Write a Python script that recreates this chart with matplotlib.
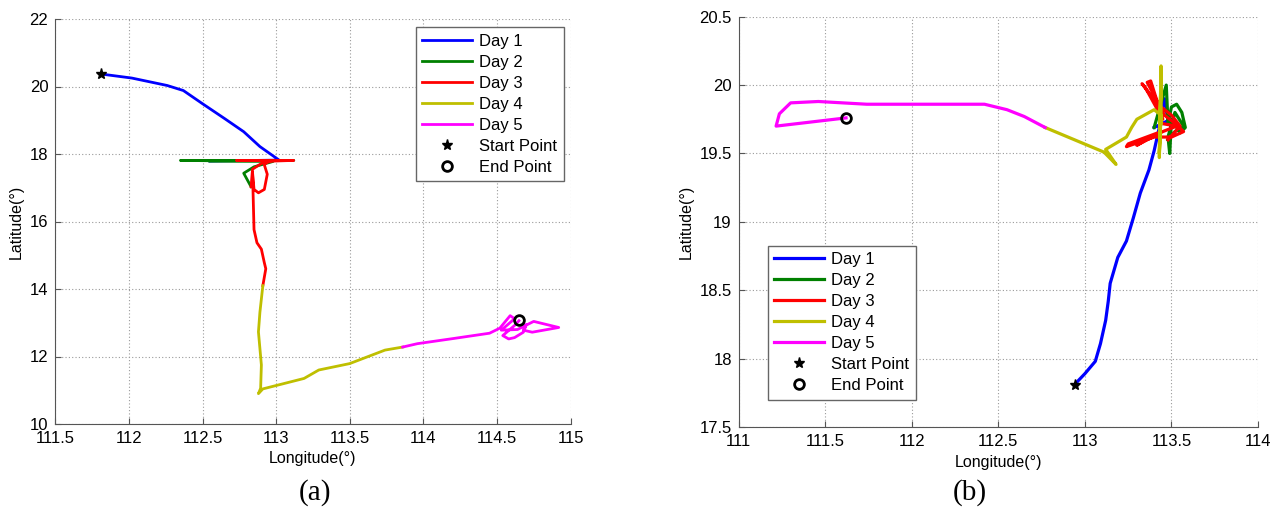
import matplotlib
matplotlib.use("Agg")
import matplotlib.pyplot as plt

plt.rcParams["font.family"] = ["Liberation Sans", "DejaVu Sans"]

# ---- track (a) ----
A_DAY1_LON = [111.81, 112.02, 112.26, 112.37, 112.50, 112.65, 112.78, 112.89, 113.02, 112.55]
A_DAY1_LAT = [20.37, 20.25, 20.03, 19.88, 19.49, 19.05, 18.66, 18.22, 17.82, 17.79]
A_DAY2_LON = [112.55, 113.12, 112.35, 112.98, 112.85, 112.78, 112.83]
A_DAY2_LAT = [17.79, 17.81, 17.81, 17.78, 17.62, 17.43, 17.03]
A_DAY3_LON = [112.83, 112.84, 112.90, 112.98, 113.12, 112.73, 112.95, 112.92, 112.94, 112.92,
              112.88, 112.85, 112.84, 112.85, 112.87, 112.90, 112.92, 112.93, 112.91]
A_DAY3_LAT = [17.03, 17.55, 17.72, 17.79, 17.81, 17.81, 17.80, 17.68, 17.40, 16.95,
              16.85, 16.95, 17.45, 15.76, 15.37, 15.18, 14.78, 14.60, 14.10]
A_DAY4_LON = [112.91, 112.89, 112.88, 112.90, 112.895, 112.88, 112.91, 113.19, 113.29, 113.50, 113.74, 113.86]
A_DAY4_LAT = [14.10, 13.31, 12.73, 11.75, 11.06, 10.90, 11.04, 11.35, 11.60, 11.79, 12.19, 12.28]
A_DAY5_LON = [113.86, 113.96, 114.20, 114.45, 114.52, 114.59, 114.62, 114.53, 114.64, 114.75,
              114.92, 114.74, 114.68, 114.70, 114.68, 114.62, 114.58, 114.54, 114.62, 114.65]
A_DAY5_LAT = [12.28, 12.38, 12.53, 12.69, 12.84, 13.21, 13.12, 12.78, 12.80, 13.04,
              12.86, 12.72, 12.78, 12.95, 12.72, 12.56, 12.52, 12.62, 12.92, 13.06]
A_START = (111.81, 20.37)
A_END = (114.65, 13.07)

# ---- track (b) ----
B_DAY1_LON = [112.94, 113.00, 113.06, 113.09, 113.12, 113.135, 113.146, 113.19, 113.24, 113.28,
              113.32, 113.37, 113.40, 113.43, 113.45, 113.46, 113.48, 113.40]
B_DAY1_LAT = [17.81, 17.89, 17.98, 18.11, 18.28, 18.42, 18.55, 18.74, 18.86, 19.03,
              19.21, 19.38, 19.52, 19.69, 19.85, 19.90, 19.74, 19.69]
B_DAY2_LON = [113.40, 113.47, 113.48, 113.50, 113.53, 113.56, 113.58, 113.55, 113.50, 113.49,
              113.48, 113.52, 113.57, 113.52, 113.48]
B_DAY2_LAT = [19.69, 20.00, 19.72, 19.84, 19.86, 19.80, 19.69, 19.65, 19.75, 19.50,
              19.62, 19.80, 19.70, 19.66, 19.60]
B_DAY3_LON = [113.48, 113.55, 113.50, 113.42, 113.33, 113.35, 113.45, 113.38, 113.36, 113.46,
              113.52, 113.57, 113.50, 113.40, 113.24, 113.25, 113.42, 113.30, 113.45, 113.53, 113.44]
B_DAY3_LAT = [19.60, 19.70, 19.78, 19.86, 20.01, 19.98, 19.75, 20.03, 20.02, 19.78,
              19.72, 19.66, 19.62, 19.62, 19.55, 19.57, 19.65, 19.56, 19.66, 19.70, 19.72]
B_DAY4_LON = [113.44, 113.44, 113.43, 113.44, 113.43, 113.44, 113.40, 113.30, 113.27, 113.24,
              113.12, 113.18, 113.11, 112.77]
B_DAY4_LAT = [19.72, 20.14, 19.47, 20.10, 19.50, 19.78, 19.82, 19.75, 19.69, 19.62,
              19.53, 19.42, 19.51, 19.69]
B_DAY5_LON = [112.77, 112.65, 112.55, 112.42, 112.29, 111.74, 111.46, 111.30, 111.235, 111.216, 111.62]
B_DAY5_LAT = [19.69, 19.77, 19.82, 19.86, 19.86, 19.86, 19.88, 19.87, 19.79, 19.70, 19.76]
B_START = (112.94, 17.81)
B_END = (111.62, 19.76)

DAY_LABELS = ["Day 1", "Day 2", "Day 3", "Day 4", "Day 5"]
DAY_COLORS = ["#0000ff", "#008000", "#ff0000", "#bfbf00", "#ff00ff"]

A_XTICKS = [111.5, 112, 112.5, 113, 113.5, 114, 114.5, 115]
A_YTICKS = [10, 12, 14, 16, 18, 20, 22]
B_XTICKS = [111, 111.5, 112, 112.5, 113, 113.5, 114]
B_YTICKS = [17.5, 18, 18.5, 19, 19.5, 20, 20.5]

W, H = 1272, 524
fig = plt.figure(figsize=(W / 100, H / 100), dpi=100)


def px_rect(x0, y0, x1, y1):
    return [x0 / W, 1 - y1 / H, (x1 - x0) / W, (y1 - y0) / H]


def draw_track(ax, days, start, end, xticks, yticks, legend_loc, legend_anchor, lw):
    for (lon, lat), color, label in zip(days, DAY_COLORS, DAY_LABELS):
        ax.plot(lon, lat, color=color, lw=lw, label=label, solid_joinstyle="round")
    ax.plot(*start, ls="none", marker="*", ms=8, color="black", label="Start Point")
    ax.plot(*end, ls="none", marker="o", ms=7, mfc="none", mec="black", mew=2, label="End Point")

    ax.set_xlim(xticks[0], xticks[-1])
    ax.set_ylim(yticks[0], yticks[-1])
    ax.set_xticks(xticks)
    ax.set_yticks(yticks)
    ax.set_xticklabels([f"{v:g}" for v in xticks])
    ax.set_yticklabels([f"{v:g}" for v in yticks])
    ax.grid(True, color="#9a9a9a", lw=0.8, ls=(0, (1, 2)))
    ax.set_axisbelow(True)
    for side in ("top", "right"):
        ax.spines[side].set_visible(False)
    for side in ("left", "bottom"):
        ax.spines[side].set_color("#555555")
    ax.tick_params(direction="in", length=4, labelsize=12, color="#555555", pad=5)
    ax.set_xlabel("Longitude(°)", fontsize=11.5, labelpad=4)
    ax.set_ylabel("Latitude(°)", fontsize=11.5, labelpad=4)

    leg = ax.legend(loc=legend_loc, bbox_to_anchor=legend_anchor, borderaxespad=0,
                    fontsize=12, fancybox=False, framealpha=1, edgecolor="#666666",
                    handlelength=3.0, handletextpad=0.4, labelspacing=0.36, borderpad=0.4,
                    numpoints=1)
    leg.get_frame().set_linewidth(1.0)


ax_a = fig.add_axes(px_rect(55.3, 19, 570.5, 424))
draw_track(ax_a,
           [(A_DAY1_LON, A_DAY1_LAT), (A_DAY2_LON, A_DAY2_LAT), (A_DAY3_LON, A_DAY3_LAT),
            (A_DAY4_LON, A_DAY4_LAT), (A_DAY5_LON, A_DAY5_LAT)],
           A_START, A_END, A_XTICKS, A_YTICKS, "upper right", (0.987, 0.98), 2.0)

ax_b = fig.add_axes(px_rect(738.7, 16.7, 1258, 427))
draw_track(ax_b,
           [(B_DAY1_LON, B_DAY1_LAT), (B_DAY2_LON, B_DAY2_LAT), (B_DAY3_LON, B_DAY3_LAT),
            (B_DAY4_LON, B_DAY4_LAT), (B_DAY5_LON, B_DAY5_LAT)],
           B_START, B_END, B_XTICKS, B_YTICKS, "lower left", (0.056, 0.066), 2.3)

fig.text(315 / W, 1 - 493 / H, "(a)", ha="center", va="center", fontsize=21, family="Liberation Serif")
fig.text(970 / W, 1 - 493 / H, "(b)", ha="center", va="center", fontsize=21, family="Liberation Serif")

fig.savefig("out.png", dpi=100)
